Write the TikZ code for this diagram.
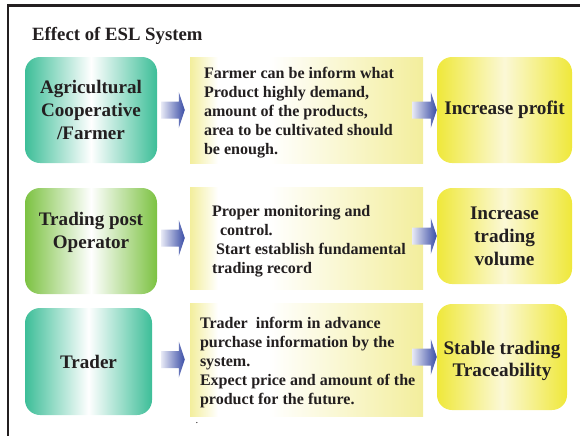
\documentclass[tikz,border=0pt]{standalone}
\usepackage{fontspec}
\setmainfont{Liberation Serif}
\usetikzlibrary{calc}

\definecolor{inkgray}{HTML}{231F20}
\definecolor{coopteal}{HTML}{3DBE98}
\definecolor{postgreen}{HTML}{7CC242}
\definecolor{notebase}{HTML}{F3EE9C}
\definecolor{gainyellow}{HTML}{EFE83A}
\definecolor{gainlight}{HTML}{FBF8D6}
\definecolor{arrowlight}{HTML}{E6E8F5}
\definecolor{arrowblue}{HTML}{3A4DA6}
\pgfdeclarehorizontalshading{noteshade}{100bp}{color(0bp)=(notebase); color(25bp)=(notebase); color(31bp)=(white); color(42bp)=(white); color(75bp)=(notebase); color(100bp)=(notebase)}

\begin{document}
\begin{tikzpicture}[x=0.3mm,y=-0.3mm,
  every node/.style={text=inkgray,font=\bfseries},
  actor/.style={rounded corners=4.5mm,minimum width=39.6mm,minimum height=31.8mm,align=center,font=\bfseries\fontsize{16.3}{20}\selectfont},
  note/.style={shading=noteshade,minimum width=69.9mm},
  notetext/.style={anchor=west,yshift=-0.9mm,align=left,inner sep=0pt,font=\bfseries\fontsize{13.7}{16.2}\selectfont},
  gain/.style={rounded corners=4.5mm,left color=gainyellow,right color=gainyellow,middle color=gainlight,minimum width=40.5mm,minimum height=31.8mm,align=center,font=\bfseries\fontsize{16.4}{19.5}\selectfont},
  blockarrow/.style={left color=arrowlight,right color=arrowblue,
    to path={let \p1=(\tikztostart),\p2=(\tikztotarget) in
      (\x1,\y2-2.55mm) -- (\x2-1.8mm,\y2-2.55mm) -- (\x2-1.8mm,\y2-5.4mm) -- (\x2,\y2)
      -- (\x2-1.8mm,\y2+5.4mm) -- (\x2-1.8mm,\y2+2.55mm) -- (\x1,\y2+2.55mm) -- cycle}}]
  \useasboundingbox (0,0) rectangle (580,436);
  \draw[inkgray,line width=2.1pt] (580,5.3) -- (7.8,5.3) -- (7.8,436);
  \node[anchor=base west,inner sep=0pt,font=\bfseries\fontsize{16}{19}\selectfont] (title) at (32,40) {Effect of ESL System};

  % who uses the system
  \node[actor,left color=coopteal,right color=coopteal,middle color=white] (agri) at (91,110) {Agricultural\\Cooperative\\/Farmer};
  \node[actor,left color=postgreen,right color=postgreen,middle color=white,text depth=6.5mm] (post) at (91,241) {Trading post\\Operator};
  \node[actor,left color=coopteal,right color=coopteal,middle color=white,minimum width=38.1mm,minimum height=32.1mm] (trader) at (88.5,361.5) {Trader};

  % what they get from it
  \node[note,minimum height=31.8mm] (note1) at (306.5,110) {};
  \node[note,minimum height=30.6mm] (note2) at (306.5,238) {};
  \node[note,minimum height=33.9mm] (note3) at (306.5,359.5) {};
  \node[notetext] (text1) at ([xshift=4.2mm]note1.west) {Farmer can be inform what\\Product highly demand,\\amount of the products,\\area to be cultivated should\\be enough.};
  \node[notetext] (text2) at ([xshift=6.6mm]note2.west) {Proper monitoring and\\\hspace*{2.4mm}control.\\\hspace*{1.2mm}Start establish fundamental\\trading record};
  \node[notetext] (text3) at ([xshift=3mm]note3.west) {Trader\ \ inform in advance\\purchase information by the\\system.\\Expect price and amount of the\\product for the future.};
  \node[anchor=base,font=\small] (dot) at (197,423) {.};

  % results
  \node[gain] (gain1) at (504.5,110) {Increase profit};
  \node[gain,minimum height=28.8mm] (gain2) at (504.5,236) {Increase\\trading\\volume};
  \node[gain,minimum width=39mm,text height=13.2mm] (gain3) at (502,357) {Stable trading\\Traceability};

  \foreach \src/\dst/\gap in {agri/note1/1.2mm,post/note2/1.2mm,trader/note3/2.7mm}
    \shade[blockarrow] ([xshift=\gap]\src.east) to ([xshift=-1.5mm]\dst.west);
  \foreach \src/\dst in {note1/gain1,note2/gain2,note3/gain3}
    \shade[blockarrow] ([xshift=-3.3mm]\src.east) to (\dst.west);
\end{tikzpicture}
\end{document}
